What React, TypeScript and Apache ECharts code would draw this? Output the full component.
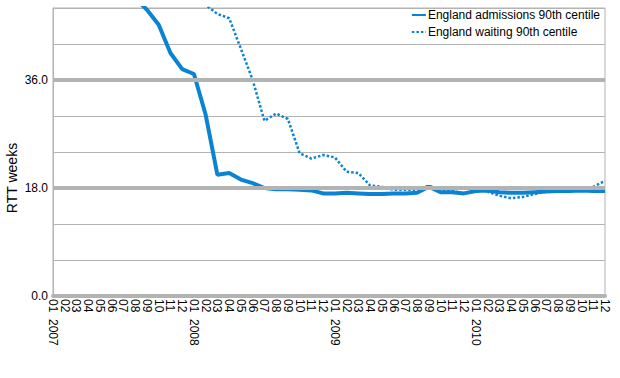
import React, { useEffect, useRef } from "react";
import * as echarts from "echarts";

const years = ["2007", "2008", "2009", "2010"];
const months = ["01", "02", "03", "04", "05", "06", "07", "08", "09", "10", "11", "12"];
const categories: string[] = [];
years.forEach((y) => months.forEach((m) => categories.push(m === "01" ? `${m}\u00a0\u00a0${y}` : m)));

const admissions = [
  56, 55, 54, 53, 52, 51.5, 50.5, 49.7, 47.7, 45.2, 40.5, 37.8,
  37.0, 30.2, 20.2, 20.5, 19.4, 18.8, 18.0, 17.8, 17.8, 17.7, 17.6, 17.1,
  17.1, 17.2, 17.1, 17.0, 17.0, 17.1, 17.1, 17.2, 18.2, 17.3, 17.3, 17.1,
  17.5, 17.6, 17.3, 17.2, 17.2, 17.3, 17.4, 17.5, 17.5, 17.6, 17.5, 17.5,
];
const waiting = [
  60, 59, 58, 57, 56.5, 56, 55, 54, 53, 52.5, 51.5, 50.5,
  49.8, 48.5, 47.0, 46.3, 41.2, 36.0, 29.2, 30.4, 29.5, 23.8, 22.9, 23.5,
  23.1, 20.7, 20.5, 18.4, 18.2, 17.7, 17.7, 17.7, 18.4, 17.7, 17.7, 18.0,
  18.1, 17.4, 16.7, 16.3, 16.5, 17.0, 17.4, 17.7, 17.8, 17.8, 18.2, 19.2,
];
const majorLines = [18, 36];
const seriesNames = ["England admissions 90th centile", "England waiting 90th centile"];

const FONT = "'Liberation Sans', Arial, sans-serif";
const BLUE = "#0a84d2";
const GRAY = "#b3b3b3";

export default function App() {
  const ref = useRef<HTMLDivElement>(null);
  useEffect(() => {
    if (!ref.current) return;
    const chart = echarts.init(ref.current, null, { renderer: "svg" });
    chart.setOption({
      animation: false,
      textStyle: { fontFamily: FONT },
      grid: {
        left: 53,
        right: 15,
        top: 8,
        bottom: 82,
        show: true,
        borderColor: GRAY,
        borderWidth: 1,
      },
      legend: {
        orient: "vertical",
        right: 20,
        top: 9,
        padding: 0,
        itemGap: 5,
        itemWidth: 14,
        itemHeight: 1,
        textStyle: { fontSize: 12, color: "#000", fontFamily: FONT, padding: [0, 0, 0, -3] },
        data: seriesNames,
      },
      graphic: [
        {
          type: "text",
          x: 12,
          y: 178,
          rotation: Math.PI / 2,
          style: {
            text: "RTT weeks",
            fontSize: 14,
            fontFamily: FONT,
            fill: "#000",
            textAlign: "center",
            textVerticalAlign: "middle",
          },
        },
      ],
      xAxis: {
        type: "category",
        data: categories,
        boundaryGap: false,
        axisLine: { show: true, lineStyle: { color: GRAY, width: 4 } },
        axisTick: { show: false },
        axisLabel: {
          rotate: -90,
          interval: 0,
          margin: 3,
          fontSize: 12,
          color: "#000",
          fontFamily: FONT,
        },
        splitLine: { show: false },
      },
      yAxis: {
        type: "value",
        min: 0,
        max: 48,
        interval: 6,
        axisLine: { show: true, lineStyle: { color: GRAY, width: 1 } },
        axisTick: { show: false },
        axisLabel: {
          margin: 5,
          fontSize: 12,
          color: "#000",
          fontFamily: FONT,
          formatter: (v: number) => (v % 18 === 0 ? v.toFixed(1) : ""),
        },
        splitLine: { show: true, lineStyle: { color: GRAY, width: 1 } },
      },
      series: [
        {
          name: "major",
          type: "line",
          data: [],
          z: 1,
          silent: true,
          markLine: {
            silent: true,
            symbol: "none",
            label: { show: false },
            lineStyle: { color: GRAY, width: 4, type: "solid" },
            data: majorLines.map((v) => ({ yAxis: v })),
          },
        },
        {
          name: seriesNames[0],
          type: "line",
          data: admissions,
          symbol: "none",
          z: 3,
          color: BLUE,
          lineStyle: { color: BLUE, width: 4 },
        },
        {
          name: seriesNames[1],
          type: "line",
          data: waiting,
          symbol: "none",
          z: 4,
          color: BLUE,
          lineStyle: { color: BLUE, width: 2.5, type: [2.5, 2] },
        },
      ],
    });
    return () => chart.dispose();
  }, []);
  return <div ref={ref} style={{ width: 620, height: 378, position: "absolute", left: 0, top: 0 }} />;
}
